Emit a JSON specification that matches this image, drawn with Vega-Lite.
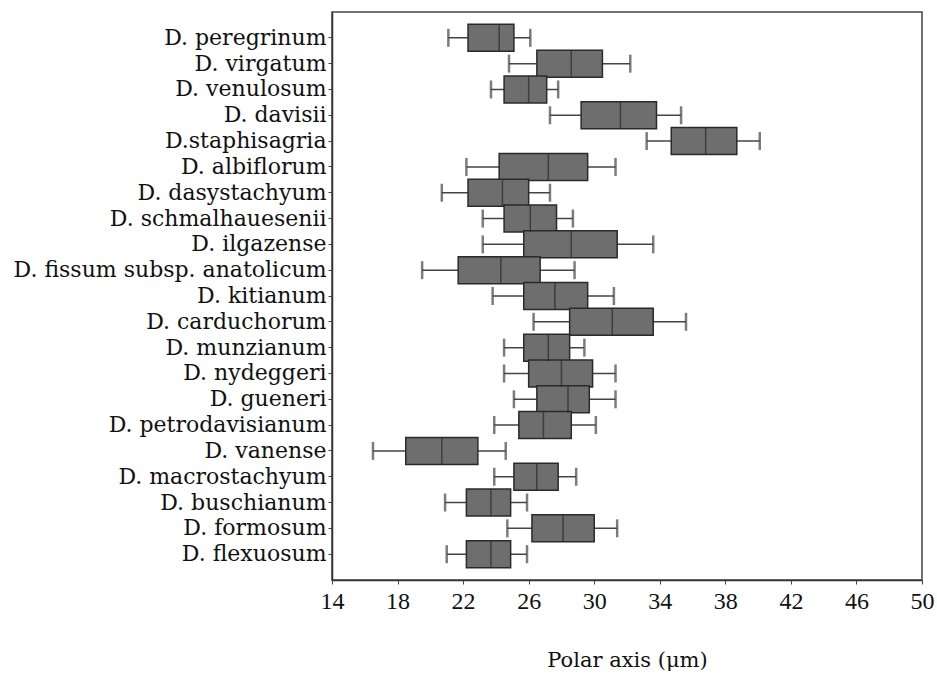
{
  "$schema": "https://vega.github.io/schema/vega-lite/v6.json",
  "width": 590,
  "height": 568,
  "autosize": {"type": "none"},
  "padding": {"left": 332, "top": 12, "right": 15, "bottom": 95},
  "background": "white",
  "config": {
    "view": {"stroke": "#444", "strokeWidth": 1.5},
    "font": "Liberation Serif"
  },
  "data": {
    "values": [
      {"species": "D. peregrinum", "lo": 21.1, "q1": 22.3, "med": 24.2, "q3": 25.1, "hi": 26.1},
      {"species": "D. virgatum", "lo": 24.8, "q1": 26.5, "med": 28.6, "q3": 30.5, "hi": 32.2},
      {"species": "D. venulosum", "lo": 23.7, "q1": 24.5, "med": 26.0, "q3": 27.1, "hi": 27.8},
      {"species": "D. davisii", "lo": 27.3, "q1": 29.2, "med": 31.6, "q3": 33.8, "hi": 35.3},
      {"species": "D.staphisagria", "lo": 33.2, "q1": 34.7, "med": 36.8, "q3": 38.7, "hi": 40.1},
      {"species": "D. albiflorum", "lo": 22.2, "q1": 24.2, "med": 27.2, "q3": 29.6, "hi": 31.3},
      {"species": "D. dasystachyum", "lo": 20.7, "q1": 22.3, "med": 24.4, "q3": 26.0, "hi": 27.3},
      {"species": "D. schmalhauesenii", "lo": 23.2, "q1": 24.5, "med": 26.1, "q3": 27.7, "hi": 28.7},
      {"species": "D. ilgazense", "lo": 23.2, "q1": 25.7, "med": 28.6, "q3": 31.4, "hi": 33.6},
      {"species": "D. fissum subsp. anatolicum", "lo": 19.5, "q1": 21.7, "med": 24.3, "q3": 26.7, "hi": 28.8},
      {"species": "D. kitianum", "lo": 23.8, "q1": 25.7, "med": 27.6, "q3": 29.6, "hi": 31.2},
      {"species": "D. carduchorum", "lo": 26.3, "q1": 28.5, "med": 31.1, "q3": 33.6, "hi": 35.6},
      {"species": "D. munzianum", "lo": 24.5, "q1": 25.7, "med": 27.2, "q3": 28.5, "hi": 29.4},
      {"species": "D. nydeggeri", "lo": 24.5, "q1": 26.0, "med": 28.0, "q3": 29.9, "hi": 31.3},
      {"species": "D. gueneri", "lo": 25.1, "q1": 26.5, "med": 28.4, "q3": 29.7, "hi": 31.3},
      {"species": "D. petrodavisianum", "lo": 23.9, "q1": 25.4, "med": 26.9, "q3": 28.6, "hi": 30.1},
      {"species": "D. vanense", "lo": 16.5, "q1": 18.5, "med": 20.7, "q3": 22.9, "hi": 24.6},
      {"species": "D. macrostachyum", "lo": 23.9, "q1": 25.1, "med": 26.5, "q3": 27.8, "hi": 28.9},
      {"species": "D. buschianum", "lo": 20.9, "q1": 22.2, "med": 23.7, "q3": 24.9, "hi": 25.9},
      {"species": "D. formosum", "lo": 24.7, "q1": 26.2, "med": 28.1, "q3": 30.0, "hi": 31.4},
      {"species": "D. flexuosum", "lo": 21.0, "q1": 22.2, "med": 23.7, "q3": 24.9, "hi": 25.9}
    ]
  },
  "encoding": {
    "y": {
      "field": "species",
      "type": "nominal",
      "sort": null,
      "scale": {"paddingInner": 0, "paddingOuter": 0.5},
      "axis": {
        "title": null,
        "labelFont": "DejaVu Serif",
        "labelFontSize": 22,
        "labelFontWeight": "normal",
        "labelColor": "#111",
        "labelPadding": 2,
        "tickSize": 4,
        "tickColor": "#444",
        "domainColor": "#333",
        "domainWidth": 1.5,
        "labelLimit": 400
      }
    }
  },
  "layer": [
    {
      "mark": {"type": "rule", "color": "#444", "strokeWidth": 1.5},
      "encoding": {
        "x": {
          "field": "lo",
          "type": "quantitative",
          "scale": {"domain": [14, 50], "nice": false, "zero": false},
          "axis": {
            "values": [14, 18, 22, 26, 30, 34, 38, 42, 46, 50],
            "grid": false,
            "labelFlush": false,
            "title": "Polar axis (μm)",
            "titleFont": "DejaVu Serif",
            "titleFontSize": 21,
            "titleFontWeight": "normal",
            "titleColor": "#111",
            "titlePadding": 36,
            "labelFont": "Liberation Serif",
            "labelFontSize": 24,
            "labelFontWeight": "normal",
            "labelColor": "#111",
            "labelPadding": 5,
            "tickSize": 4,
            "tickColor": "#444",
            "domainColor": "#333",
            "domainWidth": 1.5
          }
        },
        "x2": {"field": "hi"}
      }
    },
    {
      "mark": {"type": "tick", "color": "#444", "size": 18, "thickness": 2.5, "orient": "vertical"},
      "encoding": {"x": {"field": "lo", "type": "quantitative"}}
    },
    {
      "mark": {"type": "tick", "color": "#444", "size": 18, "thickness": 2.5, "orient": "vertical"},
      "encoding": {"x": {"field": "hi", "type": "quantitative"}}
    },
    {
      "mark": {"type": "bar", "color": "#6e6e6e", "stroke": "#2a2a2a", "strokeWidth": 1.5, "height": 27},
      "encoding": {
        "x": {"field": "q1", "type": "quantitative"},
        "x2": {"field": "q3"}
      }
    },
    {
      "mark": {"type": "tick", "color": "#2a2a2a", "size": 27, "thickness": 1.5, "orient": "vertical"},
      "encoding": {"x": {"field": "med", "type": "quantitative"}}
    }
  ]
}
